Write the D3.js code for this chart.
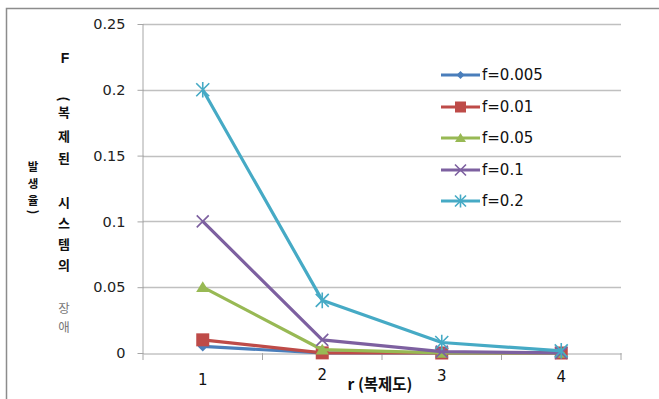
<!DOCTYPE html>
<html><head><meta charset="utf-8">
<script src="https://cdn.jsdelivr.net/npm/d3@7"></script>
<style>body{margin:0;background:#fff;}svg{display:block;font-family:"Liberation Sans","DejaVu Sans",sans-serif;}</style>
</head><body><svg id="c" width="659" height="399"></svg>
<script>
const categories = ["1","2","3","4"];
const seriesNames = ["f=0.005","f=0.01","f=0.05","f=0.1","f=0.2"];
const s005 = [0.005, 0.000025, 0.000000125, 0.000000001];
const s01  = [0.01, 0.0001, 0.000001, 0.00000001];
const s05  = [0.05, 0.0025, 0.000125, 0.00000625];
const s1   = [0.1, 0.01, 0.001, 0.0001];
const s2   = [0.2, 0.04, 0.008, 0.0016];
const yTicks = [0, 0.05, 0.1, 0.15, 0.2, 0.25];
const yTickLabels = ["0","0.05","0.1","0.15","0.2","0.25"];
const colors = ["#4a7ebb","#be4b48","#98b954","#7d60a0","#46aac5"];
const markers = ["diamond","square","triangle","x","star"];
const allSeries = [s005, s01, s05, s1, s2];

const svg = d3.select("#c");
// outer frame (left + top)
svg.append("path").attr("d","M6.5,399 V8.5 H659").attr("fill","none").attr("stroke","#8c8c8c").attr("stroke-width",1.5);

const x = d3.scaleBand().domain(categories).range([143, 621]);
const y = d3.scaleLinear().domain([0, 0.25]).range([353, 24]);

// gridlines
svg.append("g").selectAll("line").data(yTicks.slice(1)).join("line")
  .attr("x1",143).attr("x2",621).attr("y1",d=>Math.round(y(d))+0.5).attr("y2",d=>Math.round(y(d))+0.5)
  .attr("stroke","#c0c0c0").attr("stroke-width",1.3);

// y axis
const ya = svg.append("g").attr("transform","translate(143.5,0)")
  .call(d3.axisLeft(y).tickValues(yTicks).tickFormat((d,i)=>yTickLabels[i]).tickSize(6).tickPadding(12));
ya.select(".domain").attr("stroke","#a6a6a6").attr("d","M-0.5,353.5V24");
ya.selectAll(".tick line").attr("stroke","#a6a6a6");
ya.selectAll(".tick text").attr("font-size",15).attr("fill","#222").attr("font-family","'DejaVu Sans',sans-serif").attr("font-size",14.5);

// x axis
const xa = svg.append("g").attr("transform","translate(0,353.5)")
  .call(d3.axisBottom(x).tickSize(0).tickPadding(18));
xa.select(".domain").attr("stroke","#a6a6a6");
xa.selectAll(".tick text").attr("font-size",15).attr("fill","#111").attr("font-family","'DejaVu Sans',sans-serif")
  .attr("dy", (d,i)=>[ "0.9em","0.55em","0.6em","0.7em"][i]);
// category boundary ticks
svg.append("g").selectAll("line").data(categories.concat(["end"])).join("line")
  .attr("x1",(d,i)=>i<4? x(d): x.range()[1]).attr("x2",(d,i)=>i<4? x(d): x.range()[1])
  .attr("y1",353).attr("y2",360).attr("stroke","#a6a6a6");

// x title
svg.append("text").attr("x",380).attr("y",390).attr("text-anchor","middle")
  .attr("font-size",15.5).attr("font-weight","bold").attr("fill","#111")
  .attr("font-family","'Noto Sans CJK KR',sans-serif").text("r (복제도)");

// y title (odd stacked layout)
const yt = svg.append("g").attr("font-family","'Noto Sans CJK KR',sans-serif").attr("fill","#111").attr("text-anchor","middle");
yt.append("text").attr("x",65).attr("y",63).attr("font-size",14).attr("font-weight","bold").attr("font-family","'Liberation Sans',sans-serif").text("F");
yt.append("text").attr("transform","translate(64,99) rotate(90)").attr("font-size",13).attr("font-weight","bold").attr("dy","0.35em").text("(");
const col1 = [["복",112],["제",136],["된",158],["시",202],["스",223],["템",244],["의",265]];
col1.forEach(([t,yy])=>yt.append("text").attr("x",64).attr("y",yy+5).attr("font-size",13).attr("font-weight","bold").text(t));
[["장",308],["애",327]].forEach(([t,yy])=>yt.append("text").attr("x",64).attr("y",yy+5).attr("font-size",12.5).attr("fill","#777").text(t));
[["발",167],["생",184],["율",201]].forEach(([t,yy])=>yt.append("text").attr("x",33).attr("y",yy+4).attr("font-size",11.5).attr("font-weight","bold").text(t));
yt.append("text").attr("transform","translate(33,212) rotate(90)").attr("font-size",12).attr("font-weight","bold").attr("dy","0.35em").text(")");

// marker drawing
function drawMarker(g, type, color, cx, cy, s) {
  if (type==="diamond") g.append("path").attr("d",`M${cx},${cy-s}L${cx+s},${cy}L${cx},${cy+s}L${cx-s},${cy}Z`).attr("fill",color);
  else if (type==="square") g.append("rect").attr("x",cx-s).attr("y",cy-s).attr("width",2*s).attr("height",2*s).attr("fill",color);
  else if (type==="triangle") g.append("path").attr("d",`M${cx},${cy-s}L${cx+s*1.1},${cy+s*0.8}L${cx-s*1.1},${cy+s*0.8}Z`).attr("fill",color);
  else if (type==="x") g.append("path").attr("d",`M${cx-s},${cy-s}L${cx+s},${cy+s}M${cx-s},${cy+s}L${cx+s},${cy-s}`).attr("stroke",color).attr("stroke-width",1.6);
  else if (type==="star") g.append("path").attr("d",`M${cx-s},${cy-s}L${cx+s},${cy+s}M${cx-s},${cy+s}L${cx+s},${cy-s}M${cx},${cy-s*1.2}L${cx},${cy+s*1.2}`).attr("stroke",color).attr("stroke-width",1.6);
}
const msize = [5,6.5,6,6,6.5];

const line = d3.line().x((d,i)=>x(categories[i])+x.bandwidth()/2).y(d=>y(d));
const plot = svg.append("g");
allSeries.forEach((vals, si) => {
  const g = plot.append("g");
  g.append("path").datum(vals).attr("d",line).attr("fill","none").attr("stroke",colors[si]).attr("stroke-width",3.2).attr("stroke-linejoin","round");
  vals.forEach((v,i)=>drawMarker(g, markers[si], colors[si], x(categories[i])+x.bandwidth()/2, y(v), msize[si]));
});

// legend
const lg = svg.append("g");
const ly = [75,107,138,170,201];
seriesNames.forEach((n,i)=>{
  lg.append("line").attr("x1",441).attr("x2",480).attr("y1",ly[i]).attr("y2",ly[i]).attr("stroke",colors[i]).attr("stroke-width",3.2);
  drawMarker(lg, markers[i], colors[i], 460.5, ly[i], [4,5.5,5,5.5,5.5][i]);
  lg.append("text").attr("x",482).attr("y",ly[i]).attr("dy","0.36em").attr("font-size",15).attr("fill","#111")
    .attr("font-family","'DejaVu Sans',sans-serif").text(n);
});
</script></body></html>
